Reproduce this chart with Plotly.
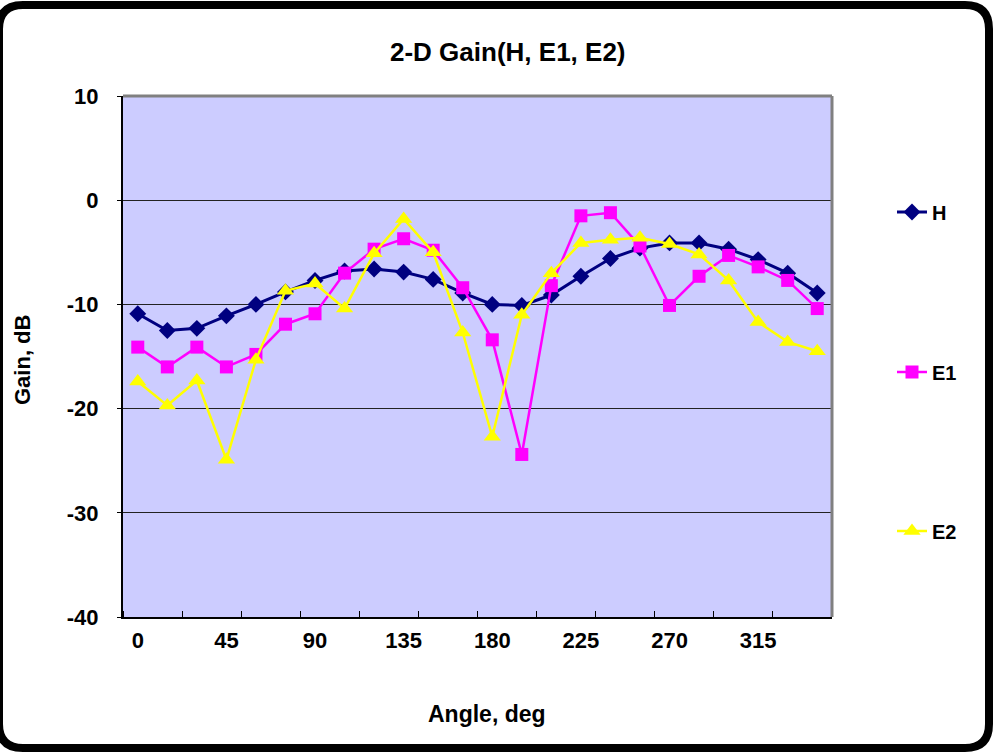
import plotly.graph_objects as go

angles = list(range(0, 360, 15))
H = [-10.9, -12.5, -12.3, -11.1, -10.0, -8.8, -7.7, -6.8, -6.6, -6.9, -7.6, -8.9,
     -10.0, -10.1, -9.1, -7.3, -5.6, -4.6, -4.1, -4.1, -4.7, -5.7, -7.0, -8.9]
E1 = [-14.1, -16.0, -14.1, -16.0, -14.8, -11.9, -10.9, -7.0, -4.7, -3.7, -4.8, -8.4,
      -13.4, -24.4, -8.2, -1.5, -1.2, -4.4, -10.1, -7.3, -5.3, -6.4, -7.7, -10.4]
E2 = [-17.4, -19.7, -17.3, -24.9, -15.3, -8.7, -8.0, -10.4, -5.1, -1.8, -5.0, -12.7,
      -22.7, -11.0, -7.0, -4.1, -3.8, -3.6, -4.2, -5.2, -7.7, -11.7, -13.6, -14.5]
series_names = ["H", "E1", "E2"]
x_tick_vals = [0, 45, 90, 135, 180, 225, 270, 315]
y_tick_vals = [-40, -30, -20, -10, 0, 10]
y_tick_text = ["-40", "-30", "-20", "-10", "0", "10"]

W, HGT = 993, 752
ML, MR, MT, MB = 123, 161, 96, 135
PW, PH = W - ML - MR, HGT - MT - MB


def px(x):
    return (x - ML) / PW


def py(y):
    return 1 - (y - MT) / PH


FONT = "Liberation Sans, Arial, sans-serif"

fig = go.Figure()
styles = [
    dict(color="#000080", symbol="diamond", size=13, lw=3),
    dict(color="#FF00FF", symbol="square", size=13, lw=2.5),
    dict(color="#FFFF00", symbol="triangle-up", size=15, lw=2.5),
]
for i, (name, vals, st) in enumerate(zip(series_names, [H, E1, E2], styles)):
    fig.add_trace(go.Scatter(
        x=angles, y=vals, name=name, mode="lines+markers",
        line=dict(color=st["color"], width=st["lw"]),
        marker=dict(color=st["color"], symbol=st["symbol"], size=st["size"],
                    line=dict(width=0)),
        legend="legend" if i == 0 else f"legend{i+1}",
    ))

leg_common = dict(xanchor="left", yanchor="middle", bgcolor="rgba(0,0,0,0)",
                  font=dict(family=FONT, size=20, color="black", weight="bold"))
LX = 892
fig.update_layout(
    width=W, height=HGT,
    margin=dict(l=ML, r=MR, t=MT, b=MB),
    paper_bgcolor="white", plot_bgcolor="#CCCCFF",
    font=dict(family=FONT, color="black"),
    legend=dict(x=px(LX), y=py(212), **leg_common),
    legend2=dict(x=px(LX), y=py(372), **leg_common),
    legend3=dict(x=px(LX), y=py(531), **leg_common),
    xaxis=dict(range=[-7.5, 352.5], tickvals=x_tick_vals, ticks="",
               showgrid=False, zeroline=False, showline=True, linecolor="black", linewidth=2,
               tickfont=dict(family=FONT, size=22, weight="bold"), ticklabelstandoff=3,
               minor=dict(tick0=22.5, dtick=30, ticks="inside", ticklen=6,
                          tickcolor="black", tickwidth=1, showgrid=False)),
    yaxis=dict(range=[-40, 10], tickvals=y_tick_vals, ticktext=y_tick_text,
               ticks="outside", ticklen=4,
               tickcolor="black", showgrid=True, gridcolor="#222222", gridwidth=1,
               zeroline=False, showline=True, linecolor="black", linewidth=2,
               tickfont=dict(family=FONT, size=22, weight="bold"), ticklabelstandoff=14),
    showlegend=True,
)

# plot area top/right border (gray)
fig.add_shape(type="line", xref="paper", yref="paper", x0=0, x1=1, y0=1, y1=1,
              line=dict(color="#808080", width=3))
fig.add_shape(type="line", xref="paper", yref="paper", x0=1, x1=1, y0=0, y1=1,
              line=dict(color="#808080", width=3))

# outer rounded border
x0, x1, y0, y1, r = -1, 989, 5, 748, 24
path = (f"M {px(x0 + r)},{py(y0)} L {px(x1 - r)},{py(y0)} "
        f"Q {px(x1)},{py(y0)} {px(x1)},{py(y0 + r)} "
        f"L {px(x1)},{py(y1 - r)} Q {px(x1)},{py(y1)} {px(x1 - r)},{py(y1)} "
        f"L {px(x0 + r)},{py(y1)} Q {px(x0)},{py(y1)} {px(x0)},{py(y1 - r)} "
        f"L {px(x0)},{py(y0 + r)} Q {px(x0)},{py(y0)} {px(x0 + r)},{py(y0)} Z")
fig.add_shape(type="path", xref="paper", yref="paper", path=path,
              line=dict(color="black", width=8))

fig.add_annotation(text="2-D Gain(H, E1, E2)", xref="paper", yref="paper",
                   x=px(508), y=py(52), showarrow=False, xanchor="center", yanchor="middle",
                   font=dict(family=FONT, size=26, weight="bold", color="black"))
fig.add_annotation(text="Angle, deg", xref="paper", yref="paper",
                   x=px(487), y=py(714), showarrow=False, xanchor="center", yanchor="middle",
                   font=dict(family=FONT, size=23, weight="bold", color="black"))
fig.add_annotation(text="Gain, dB", xref="paper", yref="paper", textangle=-90,
                   x=px(22), y=py(360), showarrow=False, xanchor="center", yanchor="middle",
                   font=dict(family=FONT, size=22, weight="bold", color="black"))

fig.write_html("out.html")
